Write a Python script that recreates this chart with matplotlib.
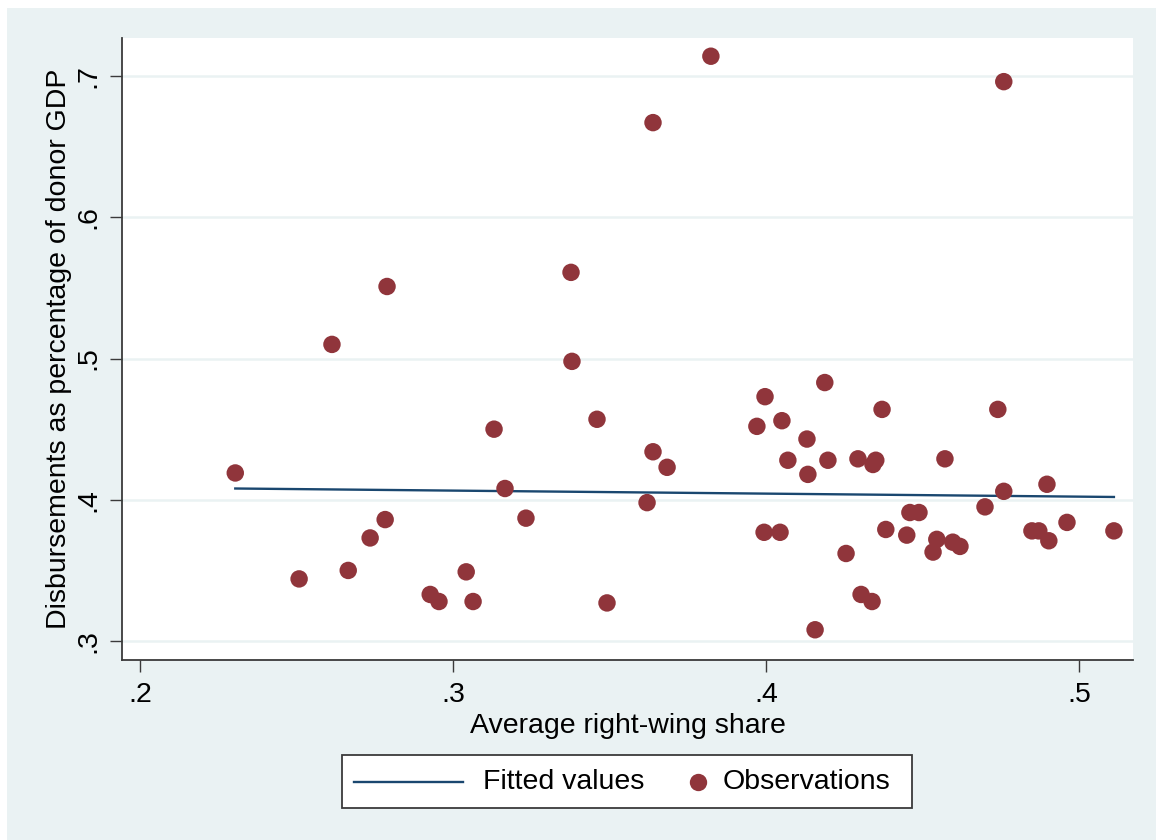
import matplotlib.pyplot as plt
from matplotlib.patches import Rectangle
from matplotlib.lines import Line2D

plt.rcParams['font.family'] = ['Liberation Sans', 'DejaVu Sans']

# observations
right_share = [0.2304, 0.2508, 0.2613, 0.2665, 0.2735, 0.2783, 0.2789, 0.2927, 0.2955, 0.3042,
               0.3064, 0.3131, 0.3166, 0.3233, 0.3377, 0.3380, 0.3460, 0.3492, 0.3620, 0.3639,
               0.3639, 0.3684, 0.3824, 0.3971, 0.3997, 0.3994, 0.4045, 0.4051, 0.4070, 0.4131,
               0.4134, 0.4157, 0.4188, 0.4198, 0.4256, 0.4294, 0.4304, 0.4339, 0.4342, 0.4351,
               0.4371, 0.4383, 0.4450, 0.4460, 0.4489, 0.4534, 0.4546, 0.4572, 0.4597, 0.4620,
               0.4700, 0.4741, 0.4760, 0.4760, 0.4850, 0.4872, 0.4898, 0.4904, 0.4962, 0.5112]
disbursements = [0.419, 0.344, 0.510, 0.350, 0.373, 0.386, 0.551, 0.333, 0.328, 0.349,
                 0.328, 0.450, 0.408, 0.387, 0.561, 0.498, 0.457, 0.327, 0.398, 0.434,
                 0.667, 0.423, 0.714, 0.452, 0.473, 0.377, 0.377, 0.456, 0.428, 0.443,
                 0.418, 0.308, 0.483, 0.428, 0.362, 0.429, 0.333, 0.328, 0.425, 0.428,
                 0.464, 0.379, 0.375, 0.391, 0.391, 0.363, 0.372, 0.429, 0.370, 0.367,
                 0.395, 0.464, 0.696, 0.406, 0.378, 0.378, 0.411, 0.371, 0.384, 0.378]

# fitted line end points
fit_x = [0.2304, 0.5112]
fit_y = [0.4080, 0.4020]

xticks = [0.2, 0.3, 0.4, 0.5]
xticklabels = ['.2', '.3', '.4', '.5']
yticks = [0.3, 0.4, 0.5, 0.6, 0.7]
yticklabels = ['.3', '.4', '.5', '.6', '.7']

BG = '#EAF2F3'
DOT = '#90353B'
LINE = '#1A476F'
AXC = '#3a3a3a'
FS = 20.5

W, H = 1156, 840
fig = plt.figure(figsize=(W / 100, H / 100), dpi=100, facecolor='white')

def fx(px):
    return px / W

def fy(py):
    return 1 - py / H

fig.patches.append(Rectangle((fx(7), 0), 1 - fx(7), fy(8), transform=fig.transFigure,
                             facecolor=BG, edgecolor='none', zorder=-10))

ax = fig.add_axes([fx(122), fy(660), fx(1133) - fx(122), fy(38) - fy(660)])
ax.set_facecolor('white')

ax.plot(fit_x, fit_y, color=LINE, lw=1.7, zorder=2)
ax.scatter(right_share, disbursements, s=158, color=DOT, edgecolors='none', zorder=3)

ax.set_xlim(0.1942, 0.5173)
ax.set_ylim(0.2866, 0.7269)
ax.set_xticks(xticks)
ax.set_xticklabels(xticklabels)
ax.set_yticks(yticks)
ax.set_yticklabels(yticklabels, rotation=90, va='center')
ax.yaxis.grid(True, color=BG, lw=1.8, zorder=0)
ax.set_axisbelow(True)

for s in ['top', 'right']:
    ax.spines[s].set_visible(False)
for s in ['left', 'bottom']:
    ax.spines[s].set_color(AXC)
    ax.spines[s].set_linewidth(1.3)

ax.tick_params(axis='both', length=8.5, width=1.0, color=AXC, labelsize=FS, labelcolor='black')
ax.tick_params(axis='x', pad=7)
ax.tick_params(axis='y', pad=6)

ax.set_xlabel('Average right-wing share', fontsize=FS, labelpad=4)
ax.set_ylabel('Disbursements as percentage of donor GDP', fontsize=FS, labelpad=3)

# legend box drawn by hand (two entries in one row)
fig.patches.append(Rectangle((fx(342), fy(808)), fx(912) - fx(342), fy(755) - fy(808),
                             transform=fig.transFigure, facecolor='white', edgecolor=AXC,
                             lw=1.3, zorder=5))
fig.add_artist(Line2D([fx(354), fx(463)], [fy(782), fy(782)], color=LINE, lw=1.7, zorder=6))
fig.add_artist(Line2D([fx(698)], [fy(782)], marker='o', markersize=12.5, color=DOT,
                      markeredgewidth=0, linestyle='none', zorder=6))
fig.text(fx(483), fy(782), 'Fitted values', fontsize=FS, va='center', ha='left', zorder=6)
fig.text(fx(723), fy(782), 'Observations', fontsize=FS, va='center', ha='left', zorder=6)

fig.savefig('out.png', dpi=100, facecolor=fig.get_facecolor())
